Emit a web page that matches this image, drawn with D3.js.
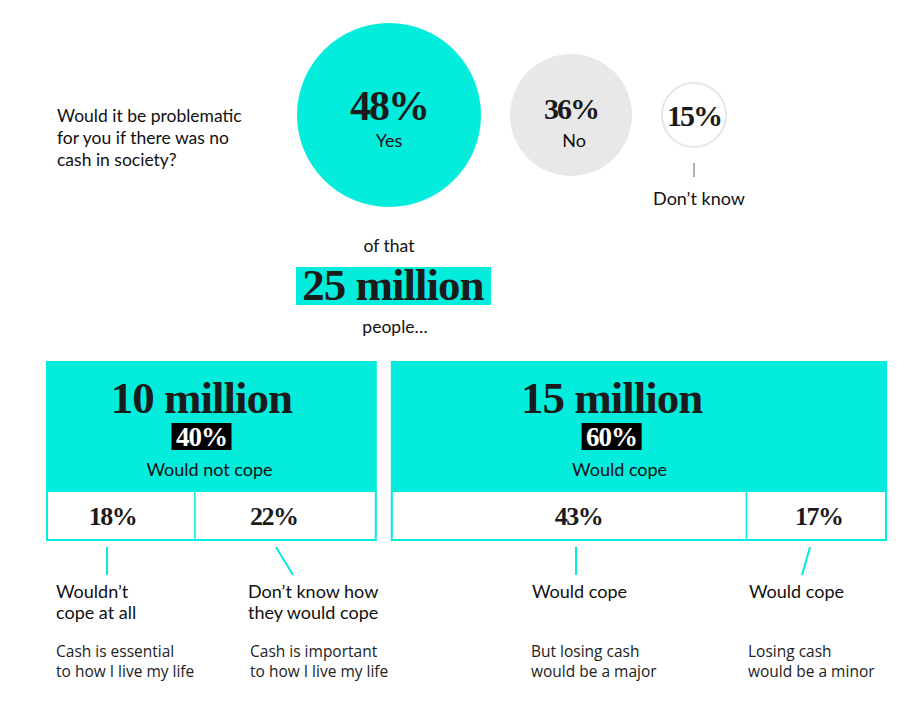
<!DOCTYPE html>
<html>
<head>
  <meta charset="utf-8">
  <title>Cash in society</title>
  <script src="https://d3js.org/d3.v7.min.js"></script>
  <style>
    body { margin: 0; background: #fff; }
    .serif { font-family: "Liberation Serif", serif; font-weight: bold; fill: #1b1b1b; }
    .sans { font-family: Lato, "Open Sans", sans-serif; fill: #111; }
    .note { font-family: "Open Sans", "Noto Sans", sans-serif; fill: #222; }
  </style>
</head>
<body>
<script>
// survey answers
var answers = ["Yes", "No", "Don\u2019t know"];
var answerShares = [48, 36, 15];
var question = ["Would it be problematic", "for you if there was no", "cash in society?"];

// the 25 million who said yes
var totalMillions = 25;
var groupLabels = ["Would not cope", "Would cope"];
var groupMillions = [10, 15];
var groupShares = [40, 60];

// breakdown within each group
var subGroup = [0, 0, 1, 1];
var subShares = [18, 22, 43, 17];
var subTitles = [["Wouldn\u2019t", "cope at all"], ["Don\u2019t know how", "they would cope"], ["Would cope"], ["Would cope"]];
var subNotes = [["Cash is essential", "to how I live my life"], ["Cash is important", "to how I live my life"],
                ["But losing cash", "would be a major"], ["Losing cash", "would be a minor"]];

var width = 922, height = 713;
var teal = "#03ecdc";

var svg = d3.select("body").append("svg")
  .attr("width", width)
  .attr("height", height);

// ---- question
svg.append("g").selectAll("text")
  .data(question)
  .join("text")
  .attr("class", "sans")
  .attr("x", 57)
  .attr("y", function(d, i){ return 122 + i * 22; })
  .attr("font-size", 17.5)
  .text(function(d){ return d; });

// ---- circles
var r = d3.scaleLinear().domain([15, 36, 48]).range([33, 61, 92]);
var cxs = [];
var xx = 297;
answerShares.forEach(function(v){
  cxs.push(xx + r(v));
  xx += 2 * r(v) + 29;
});
var cy = 115;

var circles = svg.append("g").selectAll("g")
  .data(answerShares)
  .join("g")
  .attr("transform", function(d, i){ return "translate(" + cxs[i] + "," + cy + ")"; });

circles.append("circle")
  .attr("r", function(d, i){ return i == 2 ? r(d) - 1 : r(d); })
  .attr("fill", function(d, i){ return [teal, "#e8e8e8", "#fff"][i]; })
  .attr("stroke", function(d, i){ return i == 2 ? "#e6e6e6" : "none"; })
  .attr("stroke-width", 2);

circles.append("text")
  .attr("class", "serif")
  .attr("text-anchor", "middle")
  .attr("y", function(d, i){ return [5, 4, 11][i]; })
  .attr("font-size", function(d, i){ return [42, 30, 30][i]; })
  .attr("letter-spacing", -2)
  .text(function(d){ return d + "%"; });

circles.filter(function(d, i){ return i < 2; }).append("text")
  .attr("class", "sans")
  .attr("text-anchor", "middle")
  .attr("x", function(d, i){ return i == 1 ? 3 : 0; })
  .attr("y", 32)
  .attr("font-size", 18)
  .text(function(d, i){ return answers[i]; });

// don't know callout
svg.append("line")
  .attr("x1", cxs[2]).attr("x2", cxs[2])
  .attr("y1", 163).attr("y2", 177)
  .attr("stroke", "#999").attr("stroke-width", 1.5);
svg.append("text")
  .attr("class", "sans")
  .attr("text-anchor", "middle")
  .attr("x", cxs[2] + 5)
  .attr("y", 205)
  .attr("font-size", 18)
  .text(answers[2]);

// ---- of that 25 million people
var midX = cxs[0];
svg.append("text").attr("class", "sans").attr("text-anchor", "middle")
  .attr("x", midX).attr("y", 252).attr("font-size", 17.5).text("of that");
svg.append("rect")
  .attr("x", 296).attr("y", 267).attr("width", 195).attr("height", 38)
  .attr("fill", teal);
svg.append("text").attr("class", "serif").attr("text-anchor", "middle")
  .attr("x", 393).attr("y", 300).attr("font-size", 45).attr("letter-spacing", -1)
  .text(totalMillions + " million");
svg.append("text").attr("class", "sans").attr("text-anchor", "middle")
  .attr("x", midX + 6).attr("y", 333).attr("font-size", 17.5).text("people\u2026");

// ---- group boxes
var gap = 14;
var x = d3.scaleLinear().domain([0, 100]).range([46, 887 - gap]);
var groupStart = [0, groupShares[0]];
function gx(g, share){ return x(groupStart[g] + share) + g * gap; }

var yTop = 361, yMid = 491, yBottom = 541;

var groups = svg.append("g").selectAll("g")
  .data(groupShares)
  .join("g");

groups.append("rect")
  .attr("x", function(d, i){ return gx(i, 0); })
  .attr("y", yTop)
  .attr("width", function(d, i){ return gx(i, d) - gx(i, 0); })
  .attr("height", yMid - yTop)
  .attr("fill", teal);

groups.append("rect")
  .attr("x", function(d, i){ return gx(i, 0) + 1; })
  .attr("y", yMid)
  .attr("width", function(d, i){ return gx(i, d) - gx(i, 0) - 2; })
  .attr("height", yBottom - yMid - 1)
  .attr("fill", "#fff")
  .attr("stroke", teal)
  .attr("stroke-width", 2);

var labelX = function(d, i){ return gx(i, 0) + (gx(i, d) - gx(i, 0)) * [0.47, 0.445][i]; };

groups.append("text")
  .attr("class", "serif")
  .attr("text-anchor", "middle")
  .attr("x", labelX)
  .attr("y", 413)
  .attr("font-size", 45)
  .attr("letter-spacing", -1)
  .text(function(d, i){ return groupMillions[i] + " million"; });

groups.append("rect")
  .attr("x", function(d, i){ return labelX(d, i) - 30; })
  .attr("y", 423)
  .attr("width", 60)
  .attr("height", 27)
  .attr("fill", "#000");

groups.append("text")
  .attr("class", "serif")
  .attr("text-anchor", "middle")
  .attr("x", labelX)
  .attr("y", 446)
  .attr("font-size", 27)
  .attr("letter-spacing", -1)
  .style("fill", "#fff")
  .text(function(d){ return d + "%"; });

groups.append("text")
  .attr("class", "sans")
  .attr("text-anchor", "middle")
  .attr("x", function(d, i){ return labelX(d, i) + 8; })
  .attr("y", 476)
  .attr("font-size", 18)
  .text(function(d, i){ return groupLabels[i]; });

// ---- sub cells
var cum = [0, subShares[0], 0, subShares[2]];
var cellL = subShares.map(function(d, i){ return gx(subGroup[i], cum[i]); });
var cellR = subShares.map(function(d, i){ return gx(subGroup[i], cum[i] + d); });

svg.append("g").selectAll("line")
  .data([1, 3])
  .join("line")
  .attr("x1", function(i){ return cellL[i]; })
  .attr("x2", function(i){ return cellL[i]; })
  .attr("y1", yMid).attr("y2", yBottom)
  .attr("stroke", teal).attr("stroke-width", 1.5);

svg.append("g").selectAll("text")
  .data(subShares)
  .join("text")
  .attr("class", "serif")
  .attr("text-anchor", "middle")
  .attr("x", function(d, i){ return (cellL[i] + cellR[i]) / 2 + [-8, -12, 10, 2][i]; })
  .attr("y", 525)
  .attr("font-size", 26)
  .attr("letter-spacing", -1.5)
  .text(function(d){ return d + "%"; });

// connector lines
var lineTop = [107, 276, 576, 810];
var lineBot = [107, 293, 576, 802];
svg.append("g").selectAll("line")
  .data(subShares)
  .join("line")
  .attr("x1", function(d, i){ return lineTop[i]; })
  .attr("x2", function(d, i){ return lineBot[i]; })
  .attr("y1", 547).attr("y2", 575)
  .attr("stroke", teal).attr("stroke-width", 2);

// labels
var textX = [56, 248, 532, 749];
var titles = svg.append("g").selectAll("text")
  .data(subTitles)
  .join("text")
  .attr("class", "sans")
  .attr("font-size", 18)
  .attr("y", 598);
titles.selectAll("tspan")
  .data(function(d, i){ return d.map(function(t){ return {t: t, i: i}; }); })
  .join("tspan")
  .attr("x", function(d){ return textX[d.i]; })
  .attr("dy", function(d, j){ return j ? 21 : 0; })
  .text(function(d){ return d.t; });

var notes = svg.append("g").selectAll("text")
  .data(subNotes)
  .join("text")
  .attr("class", "note")
  .attr("font-size", 15.5)
  .attr("y", 657);
notes.selectAll("tspan")
  .data(function(d, i){ return d.map(function(t){ return {t: t, i: i}; }); })
  .join("tspan")
  .attr("x", function(d){ return textX[d.i] + [0, 2, -1, -1][d.i]; })
  .attr("dy", function(d, j){ return j ? 20 : 0; })
  .text(function(d){ return d.t; });
</script>
</body>
</html>
